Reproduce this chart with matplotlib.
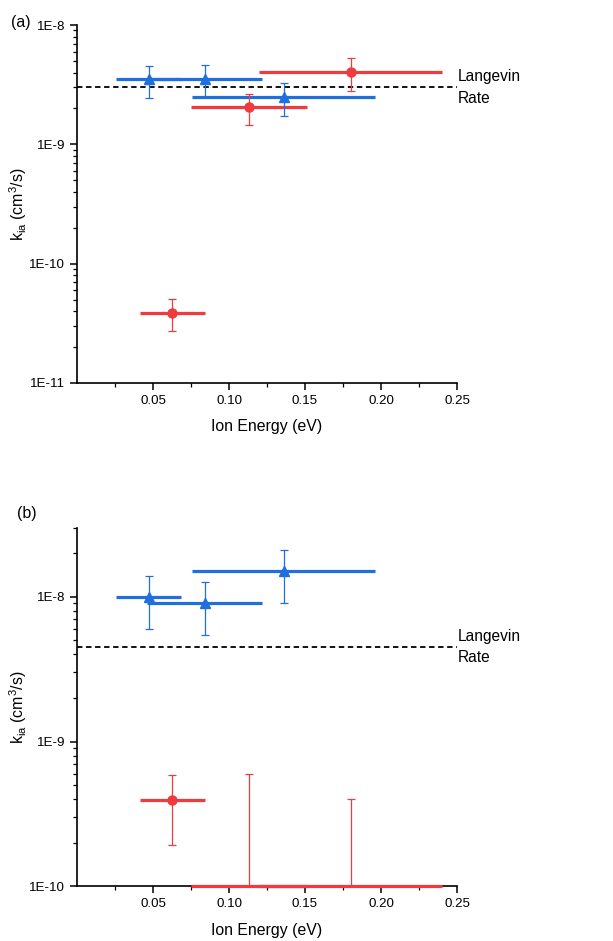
import numpy as np
import matplotlib
matplotlib.use('Agg')
import matplotlib.pyplot as plt
from matplotlib.ticker import FixedLocator, FuncFormatter, LogLocator, NullFormatter

plt.rcParams['font.family'] = ['Liberation Sans', 'DejaVu Sans']

BLUE = '#1f6fdc'
RED = '#ef3b3d'

# panel (a)
a_blue_x = [0.0472, 0.0839, 0.1359]
a_blue_xerr = [0.0213, 0.038, 0.0603]
a_blue_y = [3.51e-9, 3.55e-9, 2.51e-9]
a_blue_ylo = [2.44e-9, 2.50e-9, 1.74e-9]
a_blue_yhi = [4.51e-9, 4.63e-9, 3.25e-9]

a_red_x = [0.0627, 0.113, 0.180]
a_red_xerr = [0.0213, 0.0381, 0.0604]
a_red_y = [3.89e-11, 2.06e-9, 4.02e-9]
a_red_ylo = [2.73e-11, 1.44e-9, 2.82e-9]
a_red_yhi = [5.07e-11, 2.66e-9, 5.26e-9]

a_langevin = 3.0e-9

# panel (b)
b_blue_x = [0.0472, 0.0839, 0.1359]
b_blue_xerr = [0.0213, 0.038, 0.0603]
b_blue_y = [1.0e-8, 9.0e-9, 1.50e-8]
b_blue_ylo = [5.99e-9, 5.42e-9, 9.0e-9]
b_blue_yhi = [1.40e-8, 1.26e-8, 2.09e-8]

b_red_x = [0.0627]
b_red_xerr = [0.0213]
b_red_y = [3.92e-10]
b_red_ylo = [1.92e-10]
b_red_yhi = [5.89e-10]

# upper limits only (value at axis floor)
b_lim_x = [0.113, 0.180]
b_lim_xerr = [0.0381, 0.0604]
b_lim_y = [1e-10, 1e-10]
b_lim_yhi = [6.0e-10, 4.0e-10]

b_langevin = 4.5e-9

xticks = [0.05, 0.10, 0.15, 0.20, 0.25]


def draw(ax, x, xerr, y, ylo, yhi, color, marker, ms):
    x = np.array(x); y = np.array(y)
    ax.errorbar(x, y, xerr=xerr, fmt='none', ecolor=color, elinewidth=2.3,
                capsize=0, zorder=3)
    yerr = [y - np.array(ylo), np.array(yhi) - y]
    ax.errorbar(x, y, yerr=yerr, fmt=marker, color=color, ms=ms, mec=color,
                ecolor=color, elinewidth=0.9, capsize=3, capthick=0.9, zorder=4)


def style(ax, ylim, langevin):
    ax.set_yscale('log')
    ax.set_xlim(0, 0.25)
    ax.set_ylim(*ylim)
    ax.axhline(langevin, color='black', ls=(0, (3, 2)), lw=1.3, zorder=2)
    ax.text(0.2505, langevin, 'Langevin\nRate', fontsize=11.2, va='center',
            ha='left', linespacing=1.55, clip_on=False)
    for s in ['top', 'right']:
        ax.spines[s].set_visible(False)
    for s in ['left', 'bottom']:
        ax.spines[s].set_linewidth(1.2)
    ax.xaxis.set_major_locator(FixedLocator(xticks))
    ax.xaxis.set_minor_locator(FixedLocator([0.025, 0.075, 0.125, 0.175, 0.225]))
    ax.xaxis.set_major_formatter(FuncFormatter(lambda v, p: '%.2f' % v))
    ax.yaxis.set_major_locator(LogLocator(base=10, numticks=10))
    ax.yaxis.set_minor_locator(LogLocator(base=10, subs=np.arange(2, 10), numticks=20))
    ax.yaxis.set_minor_formatter(NullFormatter())
    ax.yaxis.set_major_formatter(FuncFormatter(lambda v, p: '1E%d' % round(np.log10(v))))
    ax.tick_params(which='major', direction='out', length=5, width=1.1, labelsize=9.6)
    ax.tick_params(which='minor', direction='out', length=3, width=0.9)
    ax.set_xlabel('Ion Energy (eV)', fontsize=11.4, labelpad=9)
    ax.set_ylabel(r'k$_{\mathregular{ia}}$ (cm$^{\mathregular{3}}$/s)', fontsize=11.4)
    ax.yaxis.set_label_coords(-0.125, 0.5)


fig = plt.figure(figsize=(6.13, 9.41), dpi=100)
ax1 = fig.add_axes([0.1256, 0.593, 0.62, 0.3804])
ax2 = fig.add_axes([0.1256, 0.0581, 0.62, 0.3811])

draw(ax1, a_red_x, a_red_xerr, a_red_y, a_red_ylo, a_red_yhi, RED, 'o', 6.5)
draw(ax1, a_blue_x, a_blue_xerr, a_blue_y, a_blue_ylo, a_blue_yhi, BLUE, '^', 7)
style(ax1, (1e-11, 1e-8), a_langevin)

draw(ax2, b_blue_x, b_blue_xerr, b_blue_y, b_blue_ylo, b_blue_yhi, BLUE, '^', 7)
draw(ax2, b_red_x, b_red_xerr, b_red_y, b_red_ylo, b_red_yhi, RED, 'o', 6.5)
ax2.errorbar(b_lim_x, b_lim_y, xerr=b_lim_xerr, fmt='none', ecolor=RED,
             elinewidth=2.3, capsize=0, zorder=3, clip_on=False)
ax2.errorbar(b_lim_x, b_lim_y,
             yerr=[[0, 0], np.array(b_lim_yhi) - np.array(b_lim_y)],
             fmt='none', ecolor=RED, elinewidth=0.9, capsize=3, capthick=0.9, zorder=4)
style(ax2, (1e-10, 3e-8), b_langevin)

fig.text(0.018, 0.984, '(a)', fontsize=11.4, va='top')
fig.text(0.027, 0.462, '(b)', fontsize=11.4, va='top')

fig.savefig('out.png', dpi=100)
